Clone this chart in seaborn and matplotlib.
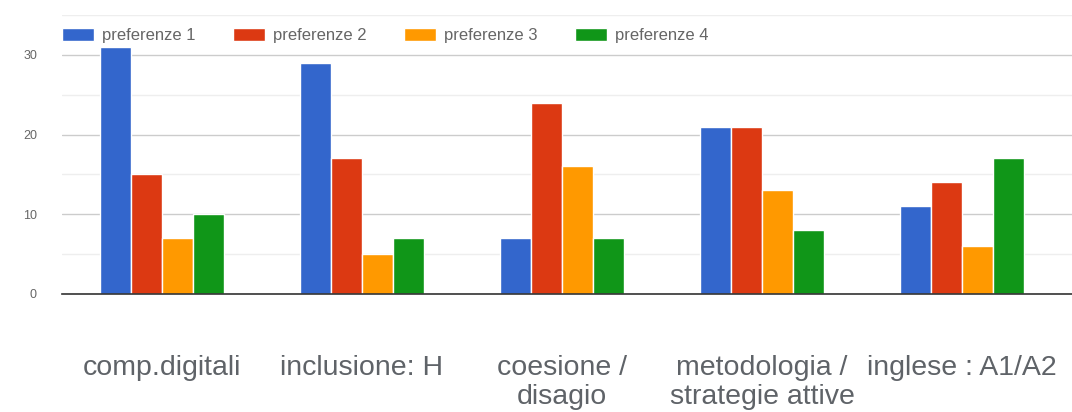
import matplotlib.pyplot as plt
import pandas as pd
import seaborn as sns
from matplotlib.ticker import MultipleLocator

categories = ['comp.digitali', 'inclusione: H', 'coesione /\ndisagio',
              'metodologia /\nstrategie attive', 'inglese : A1/A2']
series = ['preferenze 1', 'preferenze 2', 'preferenze 3', 'preferenze 4']
pref1 = [31, 29, 7, 21, 11]
pref2 = [15, 17, 24, 21, 14]
pref3 = [7, 5, 16, 13, 6]
pref4 = [10, 7, 7, 8, 17]
colors = ['#3366cc', '#dc3912', '#ff9900', '#109618']

# long format table for seaborn
rows = []
for name, vals in zip(series, [pref1, pref2, pref3, pref4]):
    for cat, v in zip(categories, vals):
        rows.append([cat, name, v])
df = pd.DataFrame(rows, columns=['categoria', 'serie', 'valore'])

sns.set_style('white')
plt.rcParams['font.family'] = ['Liberation Sans', 'DejaVu Sans']

fig = plt.figure(figsize=(10.72, 4.12), dpi=100)
ax = fig.add_axes([62 / 1072, 1 - 294 / 412, 1010 / 1072, 279 / 412])

sns.barplot(data=df, x='categoria', y='valore', hue='serie', order=categories,
            hue_order=series, palette=colors, width=0.62, saturation=1,
            edgecolor='white', linewidth=1, ax=ax)

ax.set_xlim(-0.5, 4.55)
ax.set_ylim(0, 35)
ax.yaxis.set_major_locator(MultipleLocator(10))
ax.yaxis.set_minor_locator(MultipleLocator(5))
ax.grid(axis='y', which='major', color='#cccccc', linewidth=1)
ax.grid(axis='y', which='minor', color='#eeeeee', linewidth=1)
ax.set_axisbelow(True)

for side in ['top', 'right', 'left']:
    ax.spines[side].set_visible(False)
ax.spines['bottom'].set_color('#333333')
ax.spines['bottom'].set_linewidth(1.2)

ax.set_xlabel('')
ax.set_ylabel('')
ax.tick_params(axis='x', length=0, pad=44, labelsize=20.5, labelcolor='#5f6368')
ax.tick_params(axis='y', which='both', length=0, pad=18, labelsize=9, labelcolor='#666666')
for lbl in ax.get_xticklabels():
    lbl.set_linespacing(1.15)
    lbl.set_verticalalignment('top')

leg = ax.legend(loc='center left', bbox_to_anchor=(0, 0.925), ncol=4, frameon=False,
                fontsize=12, handlelength=1.92, handleheight=0.78, handletextpad=0.48,
                columnspacing=2.25, borderaxespad=0, borderpad=0)
for t in leg.get_texts():
    t.set_color('#666666')

fig.savefig('out.png', dpi=100)
